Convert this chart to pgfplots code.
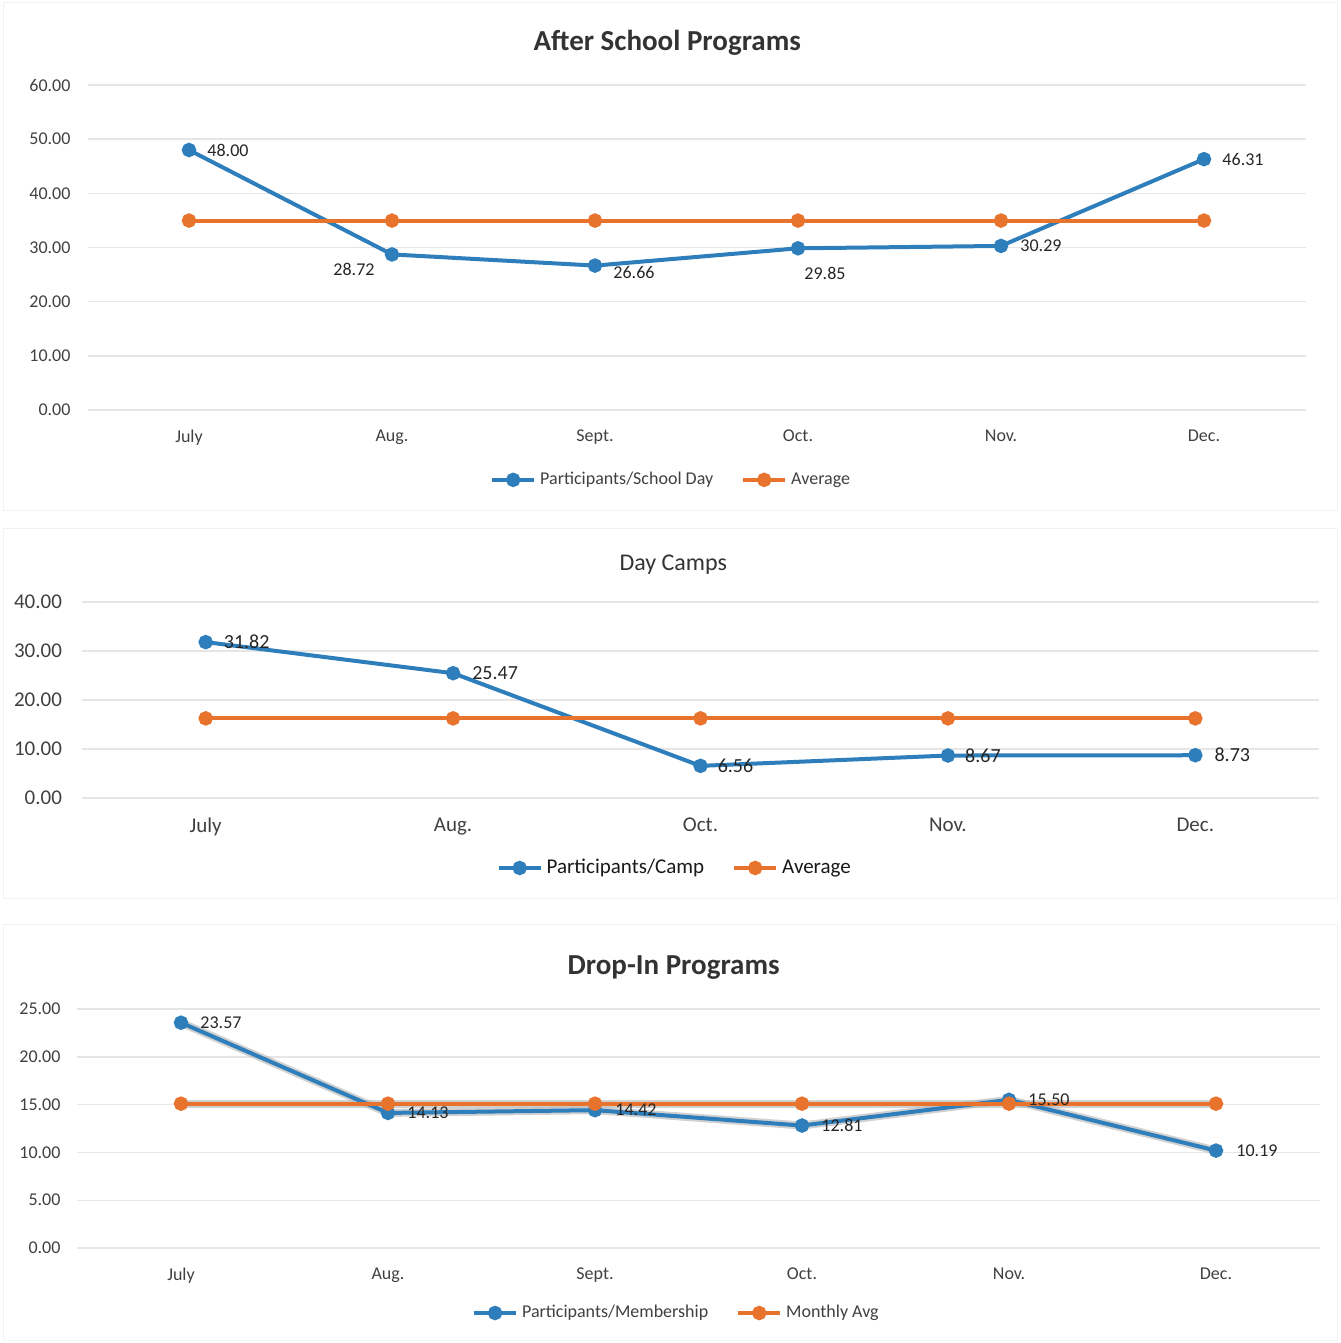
\documentclass[border=0pt]{standalone}
\usepackage{fontspec}
\setmainfont{Carlito}
\usepackage{pgfplots}
\usepackage{pgfplotstable}
\pgfplotsset{compat=1.18}

\definecolor{serblue}{HTML}{2E7EBB}
\definecolor{serorange}{HTML}{E8732C}
\definecolor{gridgray}{HTML}{E6E6E6}
\definecolor{txt}{HTML}{404040}

% x, value, label offsets (pt)
\pgfplotstableread{
x y dx dy
0 48.00 19.5 0
1 28.72 -19 -7.5
2 26.66 19.5 -3.5
3 29.85 13.5 -12.5
4 30.29 20 0
5 46.31 19.5 0
}\afterschool
\pgfplotstableread{
x y dx dy
0 31.82 20.5 0
1 25.47 21 0
2 6.56 17.5 0
3 8.67 17.5 0
4 8.73 18.5 0
}\daycamps
\pgfplotstableread{
x y dx dy
0 23.57 20 0
1 14.13 20 0
2 14.42 20.5 0
3 12.81 20 0
4 15.50 20 0
5 10.19 20.5 0
}\dropin

\pgfplotsset{
  /pgf/number format/assume math mode=true,
  excel/.style={
    scale only axis,
    clip=false,
    axis line style={draw=none},
    major tick length=0pt,
    ymajorgrids,
    grid style={gridgray, line width=0.7pt},
    xtick={0,...,5},
    ymin=0,
    yticklabel style={/pgf/number format/.cd, fixed, fixed zerofill, precision=2, /tikz/.cd, xshift=-5pt, text=txt},
    xticklabel style={yshift=-6.5pt, text=txt},
    legend columns=-1,
    legend style={draw=none, fill=none, text=txt, /tikz/every even column/.append style={column sep=12pt}},
    legend image code/.code={\draw[mark repeat=2, mark phase=2, #1] plot coordinates {(0pt,0pt) (10.5pt,0pt) (21pt,0pt)};},
    title style={text=black!80},
  },
  ser/.style={line width=2pt, mark=*, mark size=2.6pt},
  labels/.style={
    point meta=explicit,
    nodes near coords={\pgfmathprintnumber[fixed, fixed zerofill, precision=2]{\pgfplotspointmeta}},
    visualization depends on={\thisrow{dx}\as\dx},
    visualization depends on={\thisrow{dy}\as\dy},
    every node near coord/.append style={anchor=center, xshift=\dx pt, yshift=\dy pt, text=black!85, font=#1},
  },
}

\begin{document}
\begin{tikzpicture}
\path[use as bounding box] (0,0) rectangle (670pt,-671.5pt);
\draw[black!5, line width=0.5pt] (1.5pt,-1.5pt) rectangle (668.5pt,-255pt);
\draw[black!5, line width=0.5pt] (1.5pt,-264pt) rectangle (668.5pt,-449pt);
\draw[black!5, line width=0.5pt] (1.5pt,-462pt) rectangle (668.5pt,-670pt);

% After School Programs
\begin{axis}[excel,
  at={(43.75pt,-205pt)}, anchor=south west,
  width=609pt, height=162.5pt,
  xmin=-0.5, xmax=5.5, ymax=60, ytick={0,10,...,60},
  xticklabels={July, Aug., Sept., Oct., Nov., Dec.},
  ticklabel style={font=\fontsize{9}{11}\selectfont},
  title={After School Programs},
  title style={font=\bfseries\fontsize{14.5}{17}\selectfont, at={(0.476,1.092)}, anchor=center},
  legend style={at={(0.48,-0.215)}, anchor=center, font=\fontsize{9}{11}\selectfont},
]
\addplot[ser, serblue, labels={\fontsize{9}{11}\selectfont}] table[x=x, y=y, meta=y] {\afterschool};
\addplot[ser, serorange] coordinates {(0,34.97) (1,34.97) (2,34.97) (3,34.97) (4,34.97) (5,34.97)};
\legend{Participants/School Day, Average}
\end{axis}

% Day Camps
\begin{axis}[excel,
  at={(41pt,-399pt)}, anchor=south west,
  width=618.5pt, height=98pt,
  xmin=-0.5, xmax=4.5, ymax=40, ytick={0,10,...,40},
  xtick={0,...,4},
  xticklabels={July, Aug., Oct., Nov., Dec.},
  ticklabel style={font=\fontsize{10.5}{12}\selectfont, text=black!90},
  yticklabel style={xshift=-1.5pt},
  title={Day Camps},
  title style={font=\fontsize{12}{14}\selectfont, at={(0.478,1.128)}, anchor=center},
  legend style={at={(0.48,-0.357)}, anchor=center, font=\fontsize{10.5}{12}\selectfont, text=black!90},
]
\addplot[ser, serblue, labels={\fontsize{10}{12}\selectfont}] table[x=x, y=y, meta=y] {\daycamps};
\addplot[ser, serorange] coordinates {(0,16.25) (1,16.25) (2,16.25) (3,16.25) (4,16.25)};
\legend{Participants/Camp, Average}
\end{axis}

% Drop-In Programs
\begin{axis}[excel,
  at={(38.75pt,-624pt)}, anchor=south west,
  width=621pt, height=119.5pt,
  xmin=-0.5, xmax=5.5, ymax=25, ytick={0,5,...,25},
  xticklabels={July, Aug., Sept., Oct., Nov., Dec.},
  ticklabel style={font=\fontsize{9}{11}\selectfont},
  title={Drop-In Programs},
  title style={font=\bfseries\fontsize{14.5}{17}\selectfont, at={(0.48,1.125)}, anchor=center},
  legend style={at={(0.483,-0.272)}, anchor=center, font=\fontsize{9}{11}\selectfont},
]
\addplot[forget plot, black!30, opacity=0.6, line width=4pt] table[x=x, y=y] {\dropin};
\addplot[forget plot, black!30, opacity=0.6, line width=4pt] coordinates {(0,15.10) (1,15.10) (2,15.10) (3,15.10) (4,15.10) (5,15.10)};
\addplot[ser, serblue, labels={\fontsize{9}{11}\selectfont}] table[x=x, y=y, meta=y] {\dropin};
\addplot[ser, serorange] coordinates {(0,15.10) (1,15.10) (2,15.10) (3,15.10) (4,15.10) (5,15.10)};
\legend{Participants/Membership, Monthly Avg}
\end{axis}
\end{tikzpicture}
\end{document}
